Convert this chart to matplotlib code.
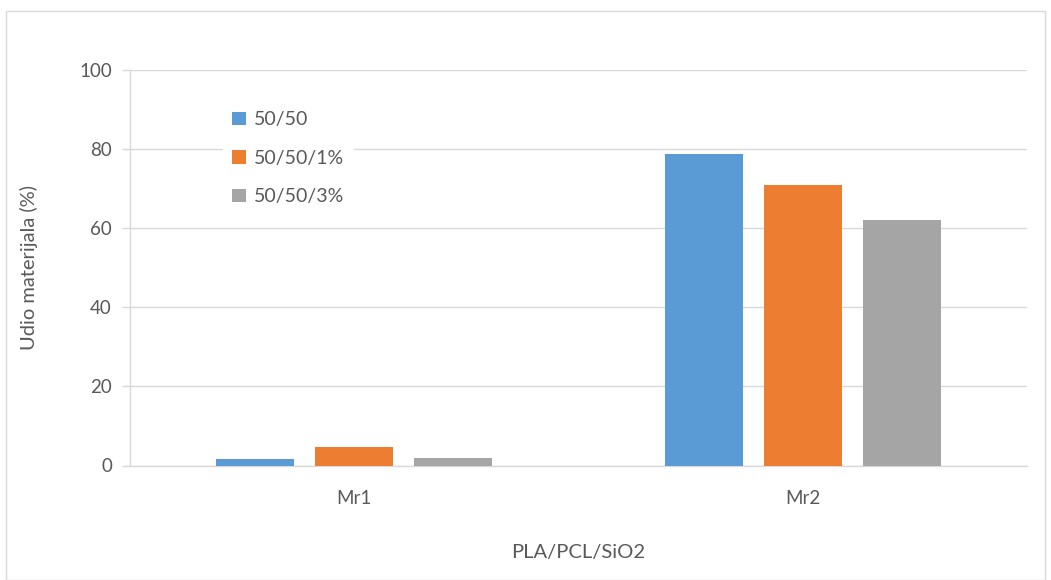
import matplotlib
matplotlib.use("Agg")
import matplotlib.pyplot as plt
import numpy as np
from matplotlib.patches import Rectangle

categories = ["Mr1", "Mr2"]
series_names = ["50/50", "50/50/1%", "50/50/3%"]
s_5050 = [1.6, 78.7]
s_5050_1 = [4.8, 70.8]
s_5050_3 = [1.9, 62.0]
yticks = [0, 20, 40, 60, 80, 100]
colors = ["#5b9bd5", "#ed7d31", "#a5a5a5"]

plt.rcParams['font.family'] = ['Lato', 'DejaVu Sans']
txt = "#595959"

W, H = 1051, 580
fig = plt.figure(figsize=(W/100, H/100), dpi=100)
ax = fig.add_axes([130/W, 1-465.5/H, (1027-130)/W, (465.5-70)/H])

x = np.arange(len(categories))
bw = 0.174
step = 0.221
for i, (vals, name, c) in enumerate(zip([s_5050, s_5050_1, s_5050_3], series_names, colors)):
    ax.bar(x + (i-1)*step, vals, width=bw, color=c, label=name, zorder=3)

ax.set_xlim(-0.5, 1.5)
ax.set_ylim(0, 100)
ax.set_yticks(yticks)
ax.set_xticks(x)
ax.set_xticklabels(categories)
ax.yaxis.grid(True, color="#d9d9d9", linewidth=1.0, zorder=0)
ax.set_axisbelow(True)
for s in ["top", "right"]:
    ax.spines[s].set_visible(False)
ax.spines["left"].set_color("#d9d9d9")
ax.spines["bottom"].set_color("#d9d9d9")
ax.spines["left"].set_linewidth(1.0)
ax.spines["bottom"].set_linewidth(1.0)
ax.tick_params(axis="y", colors="#d9d9d9", labelcolor=txt, labelsize=13.5, length=6, width=1, pad=7)
ax.tick_params(axis="x", length=0, labelcolor=txt, labelsize=13.5, pad=18)

ax.set_ylabel("Udio materijala (%)", fontsize=14.5, color=txt, labelpad=30)
ax.set_xlabel("PLA/PCL/SiO2", fontsize=14.5, color=txt, labelpad=26)

leg = ax.legend(loc="upper left", bbox_to_anchor=(83/897, 1-22/395.5), frameon=True,
                fontsize=14, labelspacing=1.1, handlelength=0.7, handleheight=0.7,
                handletextpad=0.4, borderpad=0.5, labelcolor=txt)
leg.get_frame().set_edgecolor("none")
leg.get_frame().set_facecolor("white")
leg.get_frame().set_alpha(1.0)
leg.set_zorder(5)

fig.patches.append(Rectangle((6/W, 0), (1045-6)/W, 1-11/H, transform=fig.transFigure,
                             fill=False, edgecolor="#d9d9d9", linewidth=1.0))

fig.savefig("out.png", dpi=100)
